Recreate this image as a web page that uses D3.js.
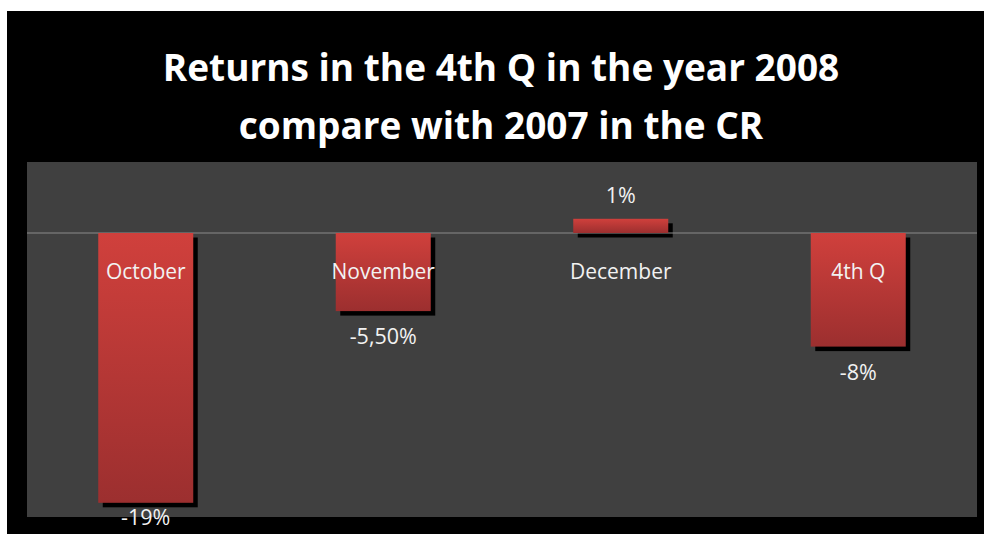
<!DOCTYPE html>
<html><head><meta charset="utf-8">
<script src="https://cdn.jsdelivr.net/npm/d3@7"></script>
<style>html,body{margin:0;padding:0;background:#fff;}svg{display:block;}</style>
</head><body>
<script>
const categories = ["October", "November", "December", "4th Q"];
const values = [-19, -5.5, 1, -8];
const valueLabels = ["-19%", "-5,50%", "1%", "-8%"];
const titleLines = ["Returns in the 4th Q in the year 2008", "compare with 2007 in the CR"];
const yDomain = [-20, 5];

const W = 984, H = 534;
const svg = d3.select("body").append("svg").attr("width", W).attr("height", H);
svg.append("rect").attr("x", 0).attr("y", 0).attr("width", W).attr("height", H).attr("fill", "#fff");
svg.append("rect").attr("x", 7).attr("y", 11).attr("width", W - 7).attr("height", H - 11).attr("fill", "#000");

const plot = {x0: 27, x1: 977, y0: 162, y1: 517};
svg.append("rect").attr("x", plot.x0).attr("y", plot.y0).attr("width", plot.x1 - plot.x0).attr("height", plot.y1 - plot.y0).attr("fill", "#404040");

const defs = svg.append("defs");
const grad = defs.append("linearGradient").attr("id", "barGrad").attr("x1", 0).attr("y1", 0).attr("x2", 0).attr("y2", 1);
grad.append("stop").attr("offset", "0%").attr("stop-color", "#d0403c");
grad.append("stop").attr("offset", "100%").attr("stop-color", "#9c2f2f");

const x = d3.scaleBand().domain(categories).range([plot.x0, plot.x1]).paddingInner(0.6).paddingOuter(0.3);
const y = d3.scaleLinear().domain(yDomain).range([plot.y1, plot.y0]);

const data = categories.map((c, i) => ({c, v: values[i], label: valueLabels[i]}));
const off = 4.5;

// shadows
svg.append("g").selectAll("rect").data(data).join("rect")
  .attr("x", d => x(d.c) + off)
  .attr("y", d => Math.min(y(d.v), y(0)) + off)
  .attr("width", x.bandwidth())
  .attr("height", d => Math.abs(y(d.v) - y(0)))
  .attr("fill", "#000");

// zero line
svg.append("line").attr("x1", plot.x0).attr("x2", plot.x1).attr("y1", y(0)).attr("y2", y(0))
  .attr("stroke", "#8a8a8a").attr("stroke-width", 1.2);

// bars
svg.append("g").selectAll("rect").data(data).join("rect")
  .attr("x", d => x(d.c))
  .attr("y", d => Math.min(y(d.v), y(0)))
  .attr("width", x.bandwidth())
  .attr("height", d => Math.abs(y(d.v) - y(0)))
  .attr("fill", "url(#barGrad)");

const font = "'Open Sans', Lato, sans-serif";
// category labels
svg.append("g").selectAll("text").data(data).join("text")
  .attr("x", d => x(d.c) + x.bandwidth() / 2)
  .attr("y", y(0) + 46)
  .attr("text-anchor", "middle")
  .attr("font-family", font).attr("font-size", 21)
  .attr("fill", "#f2f2f2")
  .text(d => d.c);

// value labels
svg.append("g").selectAll("text").data(data).join("text")
  .attr("x", d => x(d.c) + x.bandwidth() / 2)
  .attr("y", d => d.v >= 0 ? y(d.v) - 16 : Math.min(y(d.v) + 33, 525))
  .attr("text-anchor", "middle")
  .attr("font-family", font).attr("font-size", 21.5)
  .attr("fill", "#f2f2f2")
  .text(d => d.label);

// title
svg.append("g").selectAll("text").data(titleLines).join("text")
  .attr("x", 501)
  .attr("y", (d, i) => 81 + i * 58)
  .attr("text-anchor", "middle")
  .attr("font-family", font).attr("font-weight", "bold").attr("font-size", 37)
  .attr("fill", "#fff")
  .text(d => d);
</script>
</body></html>
